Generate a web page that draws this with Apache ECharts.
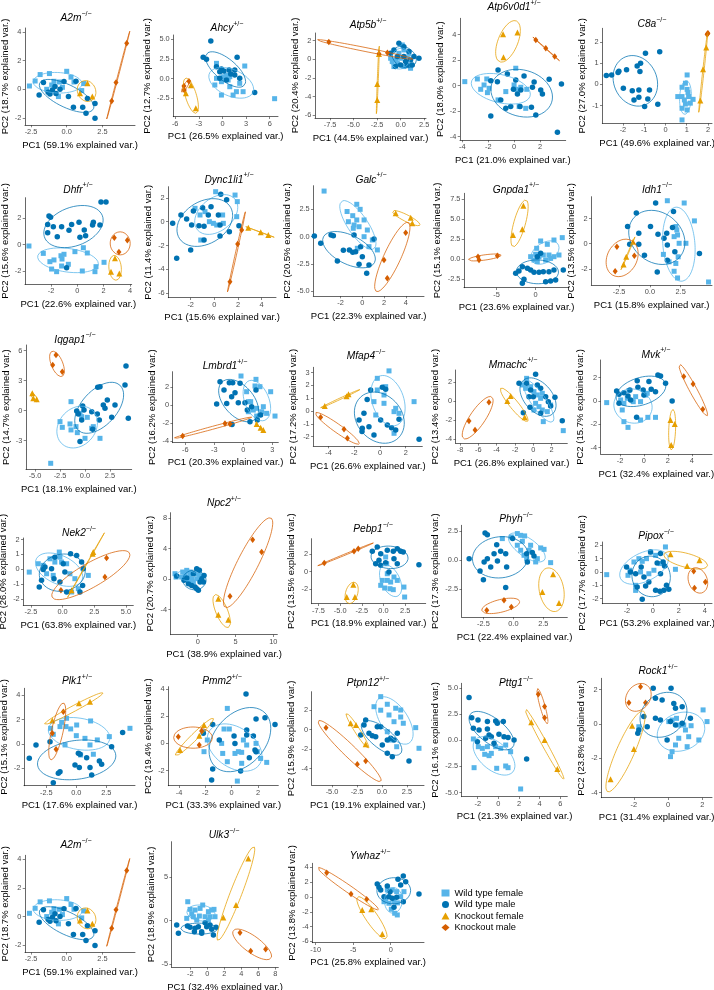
<!DOCTYPE html>
<html>
<head>
<meta charset="utf-8">
<script src="https://cdn.jsdelivr.net/npm/echarts@6/dist/echarts.min.js"></script>
<style>html,body{margin:0;padding:0;background:#fff}#container{width:714px;height:990px}</style>
</head>
<body>
<div id="container"></div>
<script>
// groups, same order everywhere: wild type female, wild type male, knockout female, knockout male
var groupNames = ['Wild type female', 'Wild type male', 'Knockout female', 'Knockout male'];

// panel titles and explained variance
var genes = ['A2m','Ahcy','Atp5b','Atp6v0d1','C8a','Dhfr','Dync1li1','Galc','Gnpda1','Idh1',
  'Iqgap1','Lmbrd1','Mfap4','Mmachc','Mvk','Nek2','Npc2','Pebp1','Phyh','Pipox',
  'Plk1','Pmm2','Ptpn12','Pttg1','Rock1','A2m','Ulk3','Ywhaz'];
var zygosity = ['−/−','+/−','+/−','+/−','−/−','+/−','+/−','+/−','+/−','−/−',
  '−/−','+/−','−/−','+/−','+/−','−/−','+/−','−/−','−/−','−/−',
  '+/−','+/−','+/−','−/−','+/−','−/−','−/−','+/−'];
var pc1Var = ['59.1','26.5','44.5','21.0','49.6','22.6','15.6','22.3','23.6','15.8',
  '18.1','20.3','26.6','26.8','32.4','63.8','38.9','18.9','22.4','53.2',
  '17.6','33.3','19.1','21.3','31.4','59.1','32.4','25.8'];
var pc2Var = ['18.7','12.7','20.4','18.0','27.0','15.6','11.4','20.5','15.1','13.5',
  '14.7','16.2','17.2','13.4','15.7','26.0','20.7','13.5','17.3','17.7',
  '15.1','19.4','15.9','16.1','23.8','18.7','18.9','13.8'];

// tick labels
var xTicks = [[-2.5,0,2.5],[-6,-3,0,3,6],[-7.5,-5,-2.5,0,2.5],[-4,-2,0,2],[-3,-2,-1,0,1,2],
  [-4,-2,0,2,4],[-2,0,2,4],[-2,0,2,4],[-5,0],[-2.5,0,2.5],
  [-5,-2.5,0,2.5],[-6,-3,0,3],[-4,-2,0,2],[-8,-6,-4,-2,0,2],[-2,0,2,4],
  [-2.5,0,2.5,5],[0,5,10],[-7.5,-5,-2.5,0,2.5],[-2.5,0,2.5],[-2,0,2,4],
  [-2.5,0,2.5],[-4,-2,0,2],[-5,-2.5,0,2.5],[-2,0,2,4,6],[-2,0,2],
  [-2.5,0,2.5],[-2,0,2,4,6,8],[-10,-5,0]];
var yTicks = [[-2,0,2,4],[-2.5,0,2.5,5],[-6,-4,-2,0,2],[-4,-2,0,2,4],[-1,0,1,2],
  [-2,0,2],[-6,-4,-2,0,2],[-5,-2.5,0,2.5],[-2.5,0,2.5,5,7.5],[-2,0,2],
  [-3,0,3,6],[-4,-2,0,2],[-2,-1,0,1,2,3],[-4,-2,0,2],[-4,-2,0,2],
  [-2,-1,0,1,2],[-4,0,4,8],[-2,0,2],[-2.5,0,2.5],[-2,-1,0,1,2],
  [-2,0,2,4],[-2,0,2,4],[-4,-2,0,2],[-5,-2.5,0,2.5,5],[-4,-2,0,2],
  [-2,0,2,4],[-5,0,5],[-6,-4,-2,0,2,4]];

// PCA scores per gene: [wild type female, wild type male, knockout female, knockout male]
var A2m = [
  [[-2.61,0.23],[-2.21,0.58],[-1.86,1.03],[-1.21,1.10],[-0.89,0.56],[-0.51,0.51],[0,1.26],[-0.30,0.14],[0.51,0.51],[1.05,-0.09],[-1.40,0],[-0.58,-0.51],[-1.05,0.3],[0.3,0.85],[1.2,0.4]],
  [[-1.93,-0.40],[-1.63,0.47],[-1.17,-0.33],[-1.0,-0.05],[-0.82,0.19],[-0.47,0],[-0.19,0.54],[0.12,-0.51],[0.47,-1.26],[1.12,-1.26],[1.35,-1.68],[1.45,-0.65],[1.98,-1.0],[1.98,-2.03],[0.65,0.56],[-1.3,-0.2],[-0.75,-0.3]],
  [[1.45,0.42],[0.93,-0.28],[1.79,-0.51]],
  [[3.15,-0.82],[3.45,0.47],[4.20,3.22]]];
var Ahcy = [
  [[2.83,1.61],[0.5,0.47],[0.08,0.25],[0.93,0.25],[-0.97,-0.80],[-0.13,-2.08],[1.35,-2.08],[1.77,-1.65],[2.62,-1.65],[6.62,-2.54],[0.93,-1.02],[-0.13,-0.38],[-0.76,0.04],[2.19,-0.59],[0.72,-0.17],[-0.76,1.95]],
  [[-1.48,4.79],[-2.45,2.71],[-2.03,2.46],[-0.76,1.53],[-0.34,0.89],[-0.13,1.23],[0.84,1.10],[1.86,2.71],[1.56,0.47],[1.05,0.59],[2.19,0.04],[4.09,-1.74],[0.5,-0.17],[-0.34,0.04],[0.17,0.97],[1.56,1.10]],
  [[-4.0,-0.85],[-4.64,-1.86],[-3.38,-3.77]],
  [[-4.89,-0.93],[-4.26,-0.34],[-4.85,-1.44]]];
var Atp5b = [
  [[0.18,1.53],[-1.06,0.11],[-0.53,-0.07],[-0.18,0.64],[0.35,-0.78],[1.06,-0.96],[-0.71,-0.78],[0,0.11],[0.71,0.11],[-0.35,-0.43],[0.89,0.64],[-0.89,-0.25],[0.35,1.0]],
  [[-0.18,1.71],[0.35,1.35],[-0.71,1.0],[0.89,0.82],[1.95,0.11],[-0.35,0.29],[0.35,0.29],[0.71,-0.61],[0,-0.61],[1.24,-0.61],[-0.53,-0.78],[1.42,0.29],[-1.06,0.64],[0.53,-0.25],[1.06,-0.07]],
  [[-2.30,0.57],[-2.48,-2.64],[-2.48,-4.35]],
  [[-7.63,1.85],[-2.3,0.6],[-1.4,0.7]]];
var Atp6v0d1 = [
  [[-3.81,0.31],[-2.84,0.52],[-2.11,0.52],[-2.32,0.05],[-1.93,-0.21],[-2.58,-0.29],[-1.24,-1.12],[0.13,1.36],[0.18,-0.29],[0.52,-0.13],[0.98,-0.29],[0.39,-1.64],[0.90,-1.78],[0,0.05],[-0.64,-0.47],[-2.06,-0.55]],
  [[-1.24,1.23],[-0.52,0.91],[-1.8,0.37],[-1.29,0.31],[0.13,0.44],[0.77,0.76],[1.55,0.29],[1.42,-0.13],[2.06,-0.34],[2.19,-0.65],[2.71,0.5],[3.66,0.13],[0.52,-0.34],[0.26,-0.65],[-0.64,-1.78],[-0.26,-1.64],[0.46,-1.64],[1.34,-1.70],[1.68,-2.30],[-1.80,-2.38],[3.35,-3.66],[-1.03,-1.12],[-0.05,-0.29]],
  [[-0.85,4.02],[0.26,4.15],[-0.82,2.22]],
  [[1.68,3.58],[2.45,2.92],[3.14,2.27]]];
var C8a = [
  [[1.02,0.44],[0.94,0.05],[0.78,-0.14],[1.02,-0.24],[0.58,-0.58],[0.78,-0.58],[1.09,-0.58],[1.30,-0.71],[0.94,-0.93],[0.78,-1.13],[1.02,-1.21],[0.78,-1.68],[1.06,-0.39],[0.89,-0.74],[1.17,-0.89]],
  [[-2.78,0.41],[-2.53,0.44],[-2.23,0.55],[-2.19,0.61],[-1.83,0.68],[-1.98,-0.19],[-1.56,-0.30],[-1.48,-0.74],[-1.25,-0.27],[-1.25,-0.61],[-0.83,-0.69],[-0.75,-0.27],[-1.20,0.60],[-1.17,0.99],[-1.33,0.86],[-0.94,1.46],[-0.27,1.54],[-0.36,-0.94],[-0.98,-1.05]],
  [[1.64,-0.77],[1.77,0.71],[1.92,1.73]],
  [[1.96,2.35],[1.98,2.38],[2.0,2.41]]];
var Dhfr = [
  [[-3.67,-0.10],[-2.58,-0.66],[-2.08,-1.29],[-1.95,-1.85],[-1.57,-2.05],[-1.24,-0.84],[-1.16,-1.09],[-1.01,-0.73],[-1.19,-1.62],[-0.68,-1.49],[-0.18,-0.53],[0.46,-0.23],[0.38,-2.0],[0.76,-0.63],[1.34,-2.05],[1.42,-1.67],[2.03,-1.34],[-1.77,-1.16]],
  [[-2.15,2.18],[-2.03,2.08],[-2.25,1.54],[-1.82,1.37],[-2.25,0.91],[-1.52,0.61],[-1.19,1.37],[-0.63,1.09],[-0.43,1.54],[0.2,0.56],[0.53,1.11],[0.63,0.68],[1.22,1.70],[1.16,1.49],[1.72,1.49],[1.80,3.24],[2.18,3.24],[0.13,1.70],[-0.81,-1.75]],
  [[2.86,-1.04],[2.56,-2.05],[3.19,-2.18]],
  [[2.81,0.53],[3.80,0.33],[3.16,-0.56]]];
var Dync1li1 = [
  [[-1.15,-1.54],[-0.79,0.84],[-0.42,0],[0.11,2.51],[0.76,-0.14],[0.70,0.56],[0.20,-0.28],[1.75,2.23],[1.94,1.68],[1.89,0.42],[-0.08,-0.14],[-1.21,0.56],[-1.63,1.12]],
  [[-3.52,-0.14],[-3.18,-3.07],[-2.0,-2.37],[-2.82,0.56],[-2.34,0.22],[-1.92,-0.28],[-1.30,-0.34],[-0.87,-0.39],[-0.99,1.17],[-0.51,0.56],[-0.28,1.26],[0.34,0.56],[0.54,2.29],[0.48,-0.28],[1.04,1.84],[1.27,-0.84],[0.48,-1.20],[-0.87,-1.54],[2.08,-0.34],[-1.77,0.89]],
  [[2.87,-0.50],[3.92,-0.89],[4.56,-1.12]],
  [[2.31,-0.70],[1.97,-1.87],[1.32,-5.03]]];
var Galc = [
  [[-3.51,4.17],[-0.88,1.92],[-1.28,1.37],[-0.51,1.53],[-0.83,0.77],[-0.51,2.96],[-0.76,1.07],[-0.30,0.91],[0.16,1.53],[0.46,0.61],[0.16,0],[0.92,-0.30],[1.38,-1.21],[0.61,-0.91],[-0.46,-1.06],[-1.4,2.3],[-0.2,2.5]],
  [[-4.40,0.06],[-3.82,-0.60],[-2.87,0.16],[-2.66,0.09],[-1.74,-1.24],[-2.29,-2.22],[-1.19,-1.21],[-0.88,-1.43],[-0.76,0.16],[-0.61,-1.37],[-0.15,-0.91],[0,-1.83],[0.61,-2.58],[0.40,-3.34],[1.07,-0.21],[-0.30,-2.52]],
  [[3.06,2.14],[4.44,1.74],[4.59,1.22]],
  [[3.98,0.37],[1.99,-2.13],[2.29,-3.80]]];
var Gnpda1 = [
  [[0.13,1.34],[0.64,2.26],[1.49,1.84],[2.34,2.38],[3.40,2.68],[0,0.59],[0.43,0.29],[0.98,0.50],[1.70,0.50],[1.91,0.08],[2.34,0.29],[-0.64,0.29],[-0.21,-0.13],[1.28,-0.13],[2.98,0.50],[0.21,-0.33]],
  [[-1.70,-0.96],[-2.13,-1.51],[-1.06,-1.17],[-0.64,-1.38],[-0.21,-1.67],[-1.49,-2.55],[-1.70,-3.05],[0.43,-1.67],[0.98,-1.59],[1.70,-1.59],[2.34,-1.38],[3.53,-1.38],[1.28,-2.85],[1.91,-2.76],[2.55,-2.64],[0.21,0.29],[0.64,0.71],[-2.55,-1.80]],
  [[-1.57,6.69],[-1.70,3.72],[-2.89,3.01]],
  [[-7.36,0.29],[-7.23,-0.13],[-4.89,0.42]]];
var Idh1 = [
  [[1.42,3.41],[2.79,3.23],[3.62,1.81],[2.11,1.36],[2.19,1.09],[2.25,0.69],[1.97,0.56],[2.38,0.03],[2.93,0.03],[1.10,-0.85],[1.56,-1.44],[1.97,-2.19],[2.25,-2.72],[2.11,-1.57],[4.77,-3.04],[2.30,-1.04]],
  [[-1.10,2.43],[0.47,3.23],[-1.81,1.36],[-0.90,0.83],[-1.64,-0.05],[-0.90,-0.05],[0.05,1.36],[0.66,0.75],[1.37,0.83],[1.92,2.56],[1.84,1.28],[2.03,-0.64],[4.03,-0.77],[0.60,-2.24],[1.42,-1.31],[-0.44,-0.91],[1.42,-0.11],[1.15,0.43]],
  [[-1.37,0.16],[-1.92,-1.04],[-2.14,-1.65]],
  [[-2.68,-0.24],[-2.82,-2.19],[-1.26,-0.96]]];
var Iqgap1 = [
  [[-1.4,0.9],[-2.5,-1.1],[-2.27,-1.67],[-1.5,-1.33],[-1.4,-1.93],[-0.77,-2.2],[0,-2.77],[-0.33,-0.6],[0.23,-0.67],[0.67,-1.77],[0.83,-1.6],[1.5,-2.77],[-3.43,-5.27],[-0.5,-0.27],[-0.9,-1.6]],
  [[-0.83,-0.03],[-0.67,-0.33],[-0.23,0.47],[-0.1,0.07],[-0.33,-0.93],[0.67,-0.1],[1.23,-0.33],[1.43,-0.93],[1.27,2.33],[1.5,2.4],[1.83,0.57],[2.23,1.07],[2.0,0.23],[3.0,0.57],[2.67,-0.67],[4.0,2.57],[4.1,4.47],[4.33,-0.77],[-0.5,-3.1],[0.77,-1.87]],
  [[-5.27,1.73],[-5.17,1.23],[-4.83,1.13]],
  [[-2.9,5.57],[-3.23,4.57],[-2.27,3.9]]];
var Lmbrd1 = [
  [[-0.24,3.27],[1.31,2.90],[1.21,2.16],[1.72,2.08],[2.83,1.52],[0.34,1.52],[0.52,0.41],[0.76,0.41],[1.03,-0.52],[1.38,-0.33],[2.07,-0.15],[2.41,-0.89],[3.28,-1.19],[1.38,-1.19],[0.52,-0.71],[1.90,-0.71]],
  [[-2.41,2.64],[-1.45,2.53],[-1.10,2.53],[-0.34,2.45],[-2.0,1.71],[-0.86,1.41],[-2.76,0.15],[-1.72,0.22],[-0.52,0.30],[-1.21,0.97],[0.17,0.30],[0.41,-0.52],[0.69,-1.82],[1.45,-1.64],[1.79,-1.08],[1.31,1.71],[-1.17,-2.12],[0.86,-0.15]],
  [[1.38,-2.08],[1.79,-2.49],[2.07,-2.75]],
  [[-6.28,-3.42],[-1.90,-2.01],[-1.38,-2.08]]];
var Mfap4 = [
  [[-0.21,2.55],[0.70,3.13],[0.31,1.25],[0.31,0.60],[-0.47,0.73],[1.22,0.21],[1.09,-0.05],[1.48,-0.18],[2.65,0.73],[-0.33,-0.31],[1.09,-1.74],[-0.21,1.64],[0.44,1.90]],
  [[-0.73,1.64],[0.18,1.85],[0.44,1.69],[-1.25,-0.18],[-1.63,-0.70],[-1.38,-1.35],[-0.86,-1.23],[-0.47,-1.88],[0.05,-0.70],[0.57,-1.09],[1.22,-1.48],[1.48,-0.65],[3.04,-2.21],[-1.4,-1.6],[-1.0,0.9],[0.9,-1.3]],
  [[-4.3,0.4],[-2.6,1.15],[-2.45,1.3]],
  [[-4.62,-0.49],[-2.80,-1.43],[-2.54,-2.13]]];
var Mmachc = [
  [[-0.73,2.36],[-1.2,1.67],[-0.84,1.32],[-0.29,1.49],[0.07,0.97],[0.44,0.63],[0.80,0.28],[0.98,0.80],[0.25,-0.24],[0.62,-0.59],[0.98,-0.94],[1.53,-1.11],[1.09,-2.15],[3.27,-3.09],[0.07,-0.94],[1.89,-0.42]],
  [[-1.56,1.84],[0.25,2.78],[-0.73,1.84],[-0.29,1.15],[-0.47,0.45],[0,0.45],[0.80,1.32],[1.35,0.45],[1.64,-0.07],[2.36,0.38],[1.89,-0.52],[-0.36,-0.66],[-1.09,-1.22],[0.80,-1.28],[3.16,-2.05],[0.44,1.67]],
  [[-2.47,0.52],[-2.84,0],[-0.95,-1.70]],
  [[-4.84,-0.14],[-7.02,-2.08],[-6.36,-3.02]]];
var Mvk = [
  [[-3.11,-0.14],[-1.94,0.09],[-1.67,-0.2],[-1.39,0.23],[-0.89,-0.06],[-0.69,0.37],[-0.28,-0.06],[0.14,0.51],[0.28,0.66],[-1.81,-0.77],[-1.67,-1.77],[-1.33,-2.26],[-0.28,-1.63],[0.33,-1.4],[0.97,-1.4],[-1.25,0.89]],
  [[-2.28,0.86],[-2.08,0.57],[-1.67,0.71],[-1.33,0.43],[-1.17,0.94],[-0.56,1.74],[-0.5,1.17],[-0.06,0.94],[0,0.51],[0.42,1.66],[0.61,1.0],[0.97,0.8],[1.17,2.23],[1.39,2.14],[1.81,1.51],[-0.61,-1.4],[2.36,0],[-2.08,-0.2],[-1.11,0.09]],
  [[2.22,-1.63],[2.58,-1.97],[2.28,-3.77]],
  [[3.33,2.09],[4.11,1.46],[4.92,-0.71]]];
var Nek2 = [
  [[-2.63,-0.18],[-1.92,0.38],[-1.53,0.27],[-1.0,0.71],[-0.61,0.49],[-0.21,0.82],[-0.08,0.49],[0.32,0.38],[-1.26,-0.29],[-0.74,-0.4],[0.58,-0.29],[0.97,-0.62],[2.03,-0.4],[1.24,-1.29],[0.71,-1.51],[-0.26,1.16]],
  [[-1.84,-1.18],[-1.66,-0.73],[-1.53,0],[-1.39,0.16],[-0.87,0.04],[-0.61,0.82],[0.05,0.38],[0.18,-0.18],[0.63,1.04],[1.11,0.93],[1.5,0.49],[1.63,0.04],[1.58,-1.07],[0.32,-1.51],[-0.68,-0.62],[1.37,-1.51],[-0.21,-0.84]],
  [[2.37,1.04],[2.42,1.16],[0.71,-1.4]],
  [[3.47,0.76],[3.34,-0.51],[-0.13,-1.4]]];
var Npc2 = [
  [[-3.0,0.70],[-2.86,0.26],[-1.98,0.92],[-1.45,1.14],[-1.01,0.48],[-0.79,-0.04],[-0.35,0.70],[-1.23,-0.17],[-1.67,0.57],[-0.57,-0.39],[-0.13,0.04],[-2.11,0.26],[-1.01,0.92],[0.22,0.48]],
  [[-2.78,0.39],[-1.81,-0.17],[-1.23,-0.61],[-0.79,-0.83],[-0.13,-1.27],[0.09,-1.48],[0.31,-0.39],[0.53,0.04],[0.84,0.48],[0.22,1.14],[-0.13,1.35],[-0.57,0.70],[0.75,-0.39],[-1.45,0.13],[-0.35,-1.05]],
  [[2.73,-2.58],[2.73,-4.67],[4.05,-5.33]],
  [[7.27,5.15],[8.46,3.54],[4.27,-2.27]]];
var Pebp1 = [
  [[0.25,1.70],[0.37,0.92],[0.44,-0.23],[-0.14,-1.0],[0.44,-1.0],[0.83,-1.19],[1.21,-0.61],[1.59,-1.0],[0.14,-1.88],[0.75,-1.96],[1.13,-2.07],[2.36,-1.77],[2.44,-2.92],[-0.32,-1.57]],
  [[-1.29,2.35],[-0.72,2.85],[-0.32,2.08],[0.44,2.47],[1.13,2.35],[1.59,2.65],[1.98,2.35],[2.28,2.27],[-0.52,1.31],[0.25,1.04],[1.21,1.5],[1.59,0.92],[-0.9,0.92],[-0.32,0.74],[4.09,0.81],[0.63,-0.03]],
  [[-3.48,-1.5],[-4.24,-2.92],[-3.29,-2.92]],
  [[-6.83,1.0],[-3.40,2.35],[-2.91,2.65]]];
var Phyh = [
  [[-0.92,1.86],[-0.17,2.0],[0.33,2.29],[0.61,2.14],[0.94,2.09],[0.75,1.63],[0.33,1.29],[0.61,0.86],[0.89,0.43],[1.31,0.86],[2.28,1.06],[2.56,0.94],[2.0,0.14],[1.86,-0.14],[3.11,-0.2],[1.11,0.14],[1.44,1.29]],
  [[-2.36,2.34],[-2.17,2.2],[-1.39,1.34],[-1.06,0.77],[-1.61,0.57],[-2.44,-0.14],[-2.78,-0.91],[-2.5,-1.66],[-3.69,0.14],[-2.17,0.14],[-1.33,-0.06],[-0.64,0.57],[-0.56,-0.57],[-0.64,-2.34],[-1.89,-0.57],[-0.06,1.86],[1.11,0.57],[1.58,0.66],[1.72,0.37],[1.17,-0.14]],
  [[3.31,-1.2],[2.42,-2.71],[3.81,-3.66]],
  [[-2.22,-4.29],[-0.78,-3.43],[-0.17,-4.0]]];
var Pipox = [
  [[-3.56,-0.2],[-1.92,-0.25],[-1.77,0.13],[-1.46,0.75],[-1.08,1.0],[-0.82,0.8],[-0.49,1.0],[-0.18,1.5],[0.21,1.25],[0.97,1.88],[1.74,0.2],[-0.31,-0.13],[-0.95,0],[-1.33,-1.0],[-1.33,-1.38],[0.59,0.63],[0.08,0.13]],
  [[-2.03,0.38],[-1.72,0],[-1.33,-0.13],[-0.90,0.38],[-0.69,-0.38],[-0.31,-0.75],[-0.18,1.5],[0.33,0.68],[0.79,0.75],[0.9,0.45],[0.59,-0.13],[0.21,-1.38],[0.54,-1.45],[0.85,-1.38],[1.23,-1.3],[1.05,-1.0],[-0.82,-2.05],[-1.21,-1.13],[0.59,1.38],[-0.56,-1.05]],
  [[1.36,1.33],[2.64,0.45],[3.59,0.88]],
  [[3.15,0.05],[4.05,-0.75],[3.21,-1.2]]];
var Plk1 = [
  [[-2.14,1.28],[-1.92,0.79],[-1.36,1.42],[-1.22,1.77],[-0.86,1.42],[-0.47,1.23],[-0.81,2.10],[0.03,1.55],[0,0.68],[0.72,0.46],[1.19,1.88],[1.75,0.33],[1.14,-0.08],[-0.94,-0.08],[0.36,-0.90],[1.42,-0.84],[4.47,1.28],[2.75,0.6]],
  [[-3.92,-1.17],[-3.36,-0.08],[-2.19,0.19],[0.17,-0.76],[0.31,-0.84],[-0.11,-1.72],[0.25,-1.93],[0.86,-1.12],[1.14,-1.93],[1.28,-2.53],[1.92,-1.39],[2.11,-1.66],[2.94,-0.22],[3.86,0.93],[-1.5,-2.40],[-1.36,-2.26],[-1.92,-3.16]],
  [[-2.0,1.91],[0.22,3.32],[1.14,3.46]],
  [[-1.08,2.64],[-2.0,0.87],[-1.69,-0.44]]];
var Pmm2 = [
  [[-2.15,0.86],[-1.85,0.25],[-2.1,-0.61],[-0.76,0],[-0.33,2.58],[-0.68,-0.74],[-0.58,1.06],[-0.18,1.06],[0.25,-0.74],[0.51,-0.61],[0.76,-0.66],[0.89,0.25],[1.14,-0.12],[1.85,0],[1.95,-0.61],[2.2,-1.11],[2.66,-1.4],[-0.33,-1.35],[0.76,-1.47],[0.43,-2.78]],
  [[-2.15,0.74],[-1.44,1.4],[-0.94,0.25],[0.18,0.54],[0.25,0],[1.14,0.98],[1.14,0.61],[1.65,0.54],[1.77,-0.49],[1.85,-0.61],[1.34,-1.06],[0.68,-2.04],[-1.44,-1.89],[-1.52,-2.7],[1.09,3.64],[1.85,1.79],[2.53,1.89],[3.29,1.4]],
  [[-3.92,-0.49],[-2.46,0.57],[-2.1,1.35]],
  [[-4.05,0.49],[-2.28,0.91],[-2.46,-0.12]]];
var Ptpn12 = [
  [[-0.13,3.39],[0.53,2.61],[1.37,2.2],[1.87,2.02],[0.7,1.51],[1.87,1.3],[1.2,0.82],[2.13,0.66],[3.37,0.21],[3.7,-1.91],[-0.8,2.36],[-0.13,2.0],[0.53,-0.21],[1.47,-1.75],[0.87,-1.06]],
  [[-1.63,1.0],[-1.8,0.48],[-1.3,-0.37],[-0.97,-0.62],[-0.63,-0.72],[-0.47,0.31],[-0.13,0.31],[0.03,-1.57],[0.53,-2.43],[1.03,-2.77],[1.2,-1.06],[1.53,-0.37],[2.7,-3.22],[-2.13,-0.54],[0.53,-1.06],[0.87,-0.89]],
  [[-3.13,0.66],[-2.6,0.48],[-1.63,-1.5]],
  [[-5.6,0.21],[-2.47,-3.56],[-1.63,-3.22]]];
var Pttg1 = [
  [[-2.42,0.13],[-1.94,-0.61],[-1.55,-0.77],[-1.06,-0.61],[-0.26,-0.61],[0.23,-0.77],[0.71,-0.45],[-1.32,-1.34],[-0.9,-1.47],[-0.68,-1.25],[-2.35,-2.62],[-0.16,-2.68],[0.71,-2.46],[0.94,-2.62],[2.16,-4.66],[1.19,-1.09]],
  [[-2.84,4.09],[-2.58,2.17],[-1.97,1.95],[-1.06,1.79],[-0.26,1.85],[0.48,1.79],[-0.1,1.63],[-2.42,1.15],[-1.87,0.99],[-1.06,1.09],[-0.9,0.51],[-0.68,0.35],[0.06,0.58],[0.55,0.35],[0.94,0.26],[1.52,0.03],[-2.03,-0.13],[-0.42,-0.29],[2.74,-1.79],[-1.23,0.19]],
  [[3.19,1.73],[4.48,0.03],[5.71,-2.75]],
  [[3.87,4.41],[4.48,3.23],[4.48,2.17]]];
var Rock1 = [
  [[-1.71,-0.16],[0.04,0.14],[0.23,0.23],[0.49,0.33],[0.62,-0.06],[0.91,-0.06],[1.01,-0.35],[1.20,-0.74],[1.34,-0.10],[2.04,0.82],[2.27,0.14],[1.79,-0.93],[1.11,-1.32],[0.43,-1.22],[0.23,-1.61],[0.14,-1.90],[0.62,-0.83]],
  [[-0.87,2.08],[0.17,2.08],[-0.74,1.50],[-0.35,1.40],[0.33,1.20],[0.43,0.91],[0.82,1.01],[-1.42,0.43],[-0.74,0.33],[-0.45,0.23],[0.14,0.14],[0.43,-0.06],[1.30,0.33],[-1.71,-0.35],[-1.77,-0.54],[-1.22,-0.16],[-0.06,-0.93],[0.82,0.04]],
  [[-2.10,-0.10],[-2.0,-1.46],[-3.36,-3.22]],
  [[-1.61,2.17],[-2.29,1.24],[-1.32,1.24]]];
var Ulk3 = [
  [[-2.31,2.19],[-2.04,1.31],[-1.45,1.23],[-0.86,1.42],[-0.55,1.81],[0.12,1.04],[0.51,1.23],[0.78,1.31],[-1.65,0.46],[-0.94,0.54],[-0.27,0.46],[-2.43,0.27],[-1.84,0.77],[0.31,0.46],[0.9,0.46],[-1.25,0.08],[0.12,0.08]],
  [[-3.61,-0.5],[-3.41,-1.46],[-2.35,-0.62],[-1.45,-0.88],[-1.06,-0.69],[-0.67,-1.46],[-0.67,-1.27],[-0.08,-0.69],[0.51,-1.0],[0.71,-1.65],[-0.27,-0.23],[-1.53,-1.27],[0.31,-0.5],[1.02,-0.77],[-2.04,-0.77]],
  [[4.82,7.19],[3.37,1.81],[1.88,0.38]],
  [[3.84,-1.38],[5.10,-3.5],[6.86,-3.31]]];
var Ywhaz = [
  [[-0.45,0.95],[0.21,0.95],[0.8,0.72],[1.77,0.72],[-0.67,-0.31],[-0.23,-0.85],[0.44,-0.64],[0.9,-0.8],[0.08,-1.66],[0.88,-2.43],[0.53,-2.2],[-0.89,-0.64],[1.33,0.04]],
  [[-1.79,1.76],[-1.56,1.31],[-1.33,0.95],[-0.45,1.49],[0.97,2.39],[1.68,2.84],[2.0,2.07],[1.33,1.62],[3.77,0.41],[-0.23,0.04],[0.21,-0.18],[0.8,-0.04],[1.68,-0.64],[0.44,-1.39],[-0.89,0.04],[-0.09,0.72]],
  [[-3.79,-1.76],[-2.59,-1.66],[-1.12,-5.0]],
  [[-8.53,3.28],[-5.29,0.41],[-3.2,-0.31]]];

var panelPoints = [A2m, Ahcy, Atp5b, Atp6v0d1, C8a, Dhfr, Dync1li1, Galc, Gnpda1, Idh1,
  Iqgap1, Lmbrd1, Mfap4, Mmachc, Mvk, Nek2, Npc2, Pebp1, Phyh, Pipox,
  Plk1, Pmm2, Ptpn12, Pttg1, Rock1, A2m, Ulk3, Ywhaz];

// ---- layout (pixels): panel box [left, top, right, bottom], axis limits, title centre ----
var boxes = [[25,28,135,125],[173.3,35,278,116.7],[315,33,426,118],[460,18.3,565.7,140],[602.3,28.3,712,123.3],
  [25,197.7,131.7,284.3],[168.3,186.7,276,297.7],[313.3,185.7,424,296],[464,193.3,569,287.7],[591.3,196.7,712,285],
  [26,345,131.7,469.3],[172.7,371.7,278.3,442.7],[313.3,367.3,422.3,446],[455.7,370,567.3,443.3],[600.7,360,712,454],
  [23.3,538,133.3,605.3],[170.7,512.7,277.3,634.7],[311.7,538.7,425.7,603.7],[461.7,525.3,567.3,617],[602.3,542,712,603.7],
  [24,688.3,135,785.7],[168.3,686.7,278.3,785.7],[311.7,691.7,424,785],[461.7,683.3,567.3,796.7],[601.3,678.3,712,797.7],
  [25,855.3,135,952.3],[171.7,841.7,278.3,967.3],[312.3,863.3,424,942.7]];
var xLim = [[-2.92,4.78],[-6.24,7.05],[-9.1,2.7],[-4.18,3.99],[-2.97,2.19],
  [-3.97,4.13],[-3.89,5.21],[-4.5,5.66],[-9.15,4.26],[-4.76,5.05],
  [-5.9,4.67],[-7.31,3.62],[-5.19,3.29],[-8.47,3.71],[-3.61,5.69],
  [-3.1,5.58],[-3.57,10.53],[-8.28,4.87],[-4.31,4.5],[-3.9,4.56],
  [-4.36,4.89],[-4.81,3.54],[-7.03,4.2],[-3.55,6.68],[-3.9,2.56],
  [-2.92,4.78],[-4.2,8.35],[-10.45,4.44]];
var yLim = [[-2.5,4.29],[-4.83,5.55],[-6.28,2.81],[-4.26,5.27],[-1.84,2.64],
  [-3.01,3.57],[-6.37,2.93],[-5.42,4.66],[-3.6,8.24],[-3.28,3.73],
  [-5.87,6.57],[-4.16,3.75],[-2.73,3.41],[-4.41,3.23],[-4.54,3.51],
  [-2.4,2.1],[-7.29,8.69],[-3.69,3.81],[-4.86,3.0],[-2.38,2.25],
  [-3.41,4.55],[-3.12,4.18],[-5.68,3.9],[-5.4,5.46],[-4.29,2.66],
  [-2.5,4.29],[-5.38,9.12],[-6.18,4.55]];
var titlePos = [[76,16.7],[227,26.7],[368,24],[514,5.8],[652,23],
  [78,188.3],[229,178.3],[371,178.3],[516,188.3],[657,188.3],
  [75,338.3],[225,365],[366,355],[513,363.3],[656,353.3],
  [79,532],[224,502],[373,528],[516,518],[656,534.7],
  [77,680],[222,680],[368,681.7],[516,681.7],[658,670],
  [76,844],[224,834],[370,855]];

var FONT = '"Liberation Sans", Arial, Helvetica, sans-serif';
var groupColors = ['#56B4E9', '#0072B2', '#E69F00', '#D55E00'];
var groupSymbols = ['rect', 'circle', 'triangle', 'diamond'];
var groupSizes = [5, 5.5, 6, [5, 6.5]];
var ELLIPSE_R = Math.sqrt(-2 * Math.log(1 - 0.68)); // sqrt(qchisq(0.68, 2))

var chart = echarts.init(document.getElementById('container'));

var measure = document.createElement('canvas').getContext('2d');
measure.font = '7.4px ' + FONT;

function tickText(ticks) {
  var dec = ticks.some(function (t) { return Math.round(t) !== t; }) ? 1 : 0;
  return function (v) { return (+v).toFixed(dec); };
}

// normal-theory ellipse (as in ggbiplot) from a group's scores
function ellipse(pts) {
  var n = pts.length;
  if (n < 3) return [];
  var mx = 0, my = 0;
  pts.forEach(function (p) { mx += p[0]; my += p[1]; });
  mx /= n; my /= n;
  var sxx = 0, syy = 0, sxy = 0;
  pts.forEach(function (p) {
    sxx += (p[0] - mx) * (p[0] - mx);
    syy += (p[1] - my) * (p[1] - my);
    sxy += (p[0] - mx) * (p[1] - my);
  });
  sxx /= n - 1; syy /= n - 1; sxy /= n - 1;
  var a = Math.sqrt(sxx), b = sxy / a, c = Math.sqrt(Math.max(syy - b * b, 0));
  var out = [];
  for (var k = 0; k <= 100; k++) {
    var t = 2 * Math.PI * k / 100, ct = Math.cos(t), st = Math.sin(t);
    out.push([mx + ELLIPSE_R * a * ct, my + ELLIPSE_R * (b * ct + c * st)]);
  }
  return out;
}

var grids = [], xAxes = [], yAxes = [], series = [], graphics = [];

genes.forEach(function (gene, i) {
  var bx = boxes[i];
  grids.push({left: bx[0], top: bx[1], width: bx[2] - bx[0], height: bx[3] - bx[1],
    containLabel: false, outerBoundsMode: 'none'});

  var ylabW = Math.max.apply(null, yTicks[i].map(function (v) {
    return measure.measureText(tickText(yTicks[i])(v)).width;
  }));

  var axisCommon = {
    type: 'value', gridIndex: i, nameLocation: 'middle', nameMoveOverlap: false,
    nameTextStyle: {fontSize: 9.5, color: '#000', fontFamily: FONT},
    axisLine: {show: true, onZero: false, lineStyle: {color: '#000', width: 0.6}},
    splitLine: {show: false}
  };
  xAxes.push(Object.assign({}, axisCommon, {
    min: xLim[i][0], max: xLim[i][1],
    name: 'PC1 (' + pc1Var[i] + '% explained var.)', nameGap: 15,
    axisTick: {show: true, length: 2.3, customValues: xTicks[i], lineStyle: {color: '#333', width: 0.6}},
    axisLabel: {customValues: xTicks[i], formatter: tickText(xTicks[i]), fontSize: 7.4,
      color: '#4d4d4d', margin: 3.6, fontFamily: FONT}
  }));
  yAxes.push(Object.assign({}, axisCommon, {
    min: yLim[i][0], max: yLim[i][1],
    name: 'PC2 (' + pc2Var[i] + '% explained var.)', nameGap: ylabW + 8.5, nameRotate: 90,
    axisTick: {show: true, length: 2.3, customValues: yTicks[i], lineStyle: {color: '#333', width: 0.6}},
    axisLabel: {customValues: yTicks[i], formatter: tickText(yTicks[i]), fontSize: 7.4,
      color: '#4d4d4d', margin: 3.6, fontFamily: FONT}
  }));

  var groups = panelPoints[i];
  groups.forEach(function (pts, g) {
    series.push({
      type: 'scatter', name: groupNames[g], xAxisIndex: i, yAxisIndex: i,
      data: pts, symbol: groupSymbols[g], symbolSize: groupSizes[g],
      itemStyle: {color: groupColors[g], opacity: 1}, z: 2, silent: true
    });
  });
  groups.forEach(function (pts, g) {
    series.push({
      type: 'line', xAxisIndex: i, yAxisIndex: i, data: ellipse(pts),
      showSymbol: false, symbol: 'none', clip: false, silent: true, z: 3,
      lineStyle: {color: groupColors[g], width: 0.75}
    });
  });

  graphics.push({
    type: 'text', x: titlePos[i][0], y: titlePos[i][1], silent: true,
    style: {
      text: '{g|' + gene + '}{s|' + zygosity[i] + '}',
      align: 'center', verticalAlign: 'middle',
      rich: {
        g: {fontSize: 10.2, fontStyle: 'italic', fontFamily: FONT, fill: '#000', lineHeight: 13, verticalAlign: 'bottom'},
        s: {fontSize: 7, fontFamily: FONT, fill: '#000', lineHeight: 7, verticalAlign: 'top'}
      }
    }
  });
});

option = {
  animation: false,
  backgroundColor: '#fff',
  grid: grids,
  xAxis: xAxes,
  yAxis: yAxes,
  series: series,
  graphic: graphics,
  legend: {
    orient: 'vertical', left: 436.5, top: 883.5, itemWidth: 8, itemHeight: 7, itemGap: 2.5,
    selectedMode: false,
    textStyle: {fontSize: 9.3, color: '#000', fontFamily: FONT},
    data: groupNames.map(function (n) { return {name: n}; })
  }
};
chart.setOption(option);
</script>
</body>
</html>
